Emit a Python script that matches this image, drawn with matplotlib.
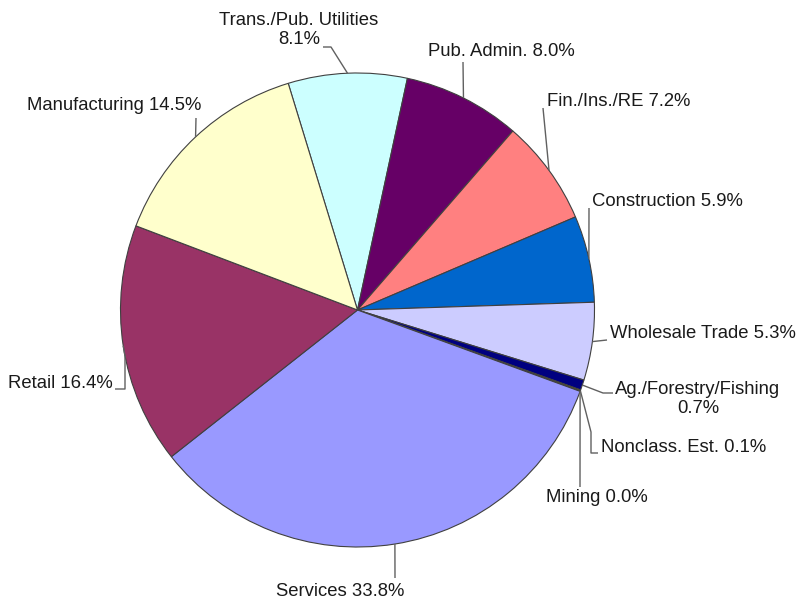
import numpy as np
import matplotlib.pyplot as plt

plt.rcParams['font.family'] = ['Liberation Sans', 'DejaVu Sans']

# data
sectors = ['Trans./Pub. Utilities', 'Pub. Admin.', 'Fin./Ins./RE', 'Construction',
           'Wholesale Trade', 'Ag./Forestry/Fishing', 'Nonclass. Est.', 'Mining',
           'Services', 'Retail', 'Manufacturing']
shares = [8.1, 8.0, 7.2, 5.9, 5.3, 0.7, 0.1, 0.0, 33.8, 16.4, 14.5]
colors = ['#CCFFFF', '#660066', '#FF8080', '#0066CC', '#CCCCFF', '#000080',
          '#808000', '#008080', '#9999FF', '#993366', '#FFFFCC']

W, H = 801, 602
cx, cy, R = 357.5, 310, 237   # pie centre/radius in pixels (y down)

def px(x, y):
    # pixel coords (y down) -> data coords
    return x, H - y

# label layout: text position, alignment, leader bend points (pixels, y down)
layout = {
    'Trans./Pub. Utilities': dict(xy=(299, 30), ha='center', text='Trans./Pub. Utilities\n{:.1f}%',
                                  bend=[(331, 47), (323, 47)]),
    'Pub. Admin.': dict(xy=(428, 52), ha='left', bend=[(463, 62)]),
    'Fin./Ins./RE': dict(xy=(547, 102), ha='left', bend=[(543, 108)]),
    'Construction': dict(xy=(592, 201), ha='left', bend=[(589, 208)]),
    'Wholesale Trade': dict(xy=(610, 333), ha='left', bend=[(607, 340)]),
    'Ag./Forestry/Fishing': dict(xy=(698, 399), ha='center', text='Ag./Forestry/Fishing\n{:.1f}%',
                                 bend=[(603, 393), (613, 393)]),
    'Nonclass. Est.': dict(xy=(601, 447), ha='left', bend=[(591, 432), (591, 453), (598, 453)]),
    'Mining': dict(xy=(597, 498), ha='center', bend=[(580, 487)]),
    'Services': dict(xy=(340, 592), ha='center', bend=[(395, 578)]),
    'Retail': dict(xy=(113, 383), ha='right', bend=[(125, 356), (125, 389), (115, 389)]),
    'Manufacturing': dict(xy=(27, 106), ha='left', bend=[(196, 118)]),
}

fig = plt.figure(figsize=(W / 100, H / 100), dpi=100)
ax = fig.add_axes([0, 0, 1, 1])

wedges, _ = ax.pie(shares, colors=colors, startangle=107, counterclock=False,
                   center=px(cx, cy), radius=R,
                   wedgeprops=dict(edgecolor='#404040', linewidth=0.8))
ax.set_xlim(0, W)
ax.set_ylim(0, H)
ax.set_aspect('equal')
ax.axis('off')

for w, name, val in zip(wedges, sectors, shares):
    lay = layout[name]
    mid = np.deg2rad((w.theta1 + w.theta2) / 2)
    ax_, ay_ = cx + R * np.cos(mid), cy - R * np.sin(mid)
    pts = [(ax_, ay_)] + lay['bend']
    xs = [p[0] for p in pts]
    ys = [H - p[1] for p in pts]
    ax.plot(xs, ys, color='#606060', lw=1, solid_capstyle='butt')
    txt = lay.get('text', name + ' {:.1f}%').format(val)
    tx, ty = px(*lay['xy'])
    ax.text(tx, ty, txt, ha=lay['ha'], va='center', fontsize=13.3,
            color='#1a1a1a', multialignment='center', linespacing=1.1)

fig.savefig('out.png', dpi=100)
